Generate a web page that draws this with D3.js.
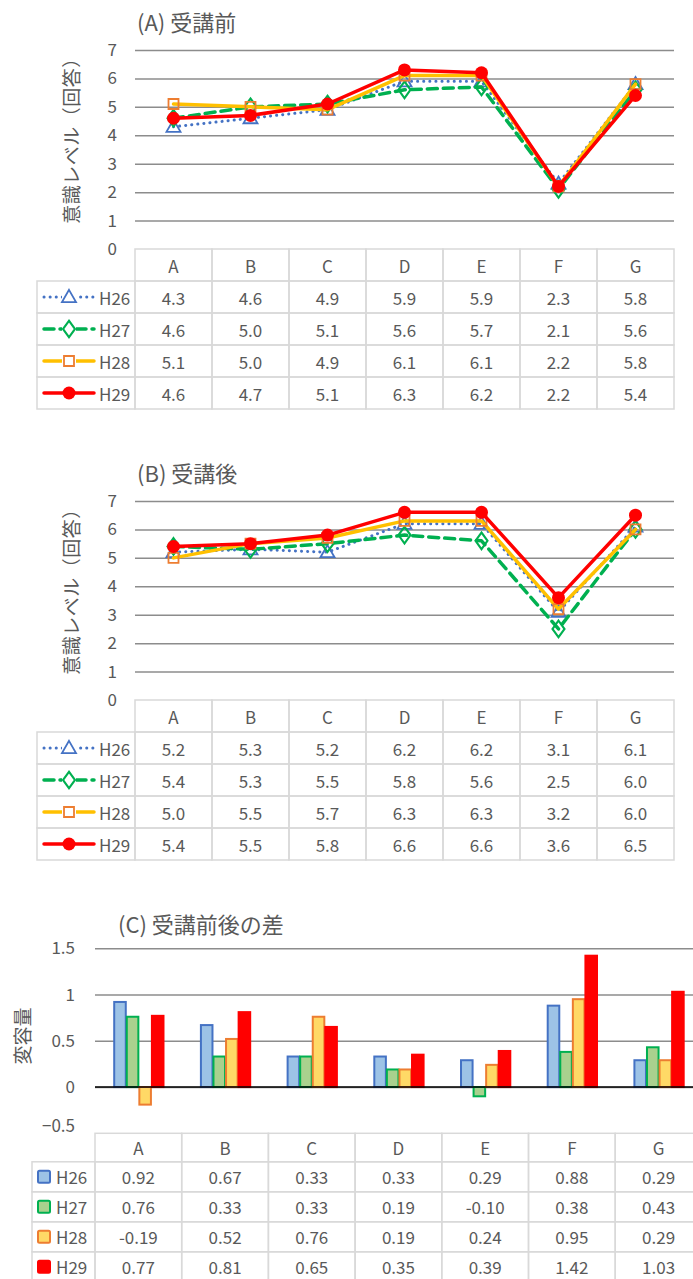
<!DOCTYPE html>
<meta charset="utf-8">
<script src="https://d3js.org/d3.v7.min.js"></script>
<style>
  body { margin: 0; background: #fff; }
  svg text { font-family: "Noto Sans CJK JP", "Noto Sans", sans-serif; fill: #595959; }
</style>
<div id="screen"></div>
<script>
  // categories and series
  var cats = ["A", "B", "C", "D", "E", "F", "G"];
  var years = ["H26", "H27", "H28", "H29"];

  // (A) before the course
  var beforeH26 = [4.3, 4.6, 4.9, 5.9, 5.9, 2.3, 5.8];
  var beforeH27 = [4.6, 5.0, 5.1, 5.6, 5.7, 2.1, 5.6];
  var beforeH28 = [5.1, 5.0, 4.9, 6.1, 6.1, 2.2, 5.8];
  var beforeH29 = [4.6, 4.7, 5.1, 6.3, 6.2, 2.2, 5.4];

  // (B) after the course
  var afterH26 = [5.2, 5.3, 5.2, 6.2, 6.2, 3.1, 6.1];
  var afterH27 = [5.4, 5.3, 5.5, 5.8, 5.6, 2.5, 6.0];
  var afterH28 = [5.0, 5.5, 5.7, 6.3, 6.3, 3.2, 6.0];
  var afterH29 = [5.4, 5.5, 5.8, 6.6, 6.6, 3.6, 6.5];

  // (C) difference
  var diffH26 = [0.92, 0.67, 0.33, 0.33, 0.29, 0.88, 0.29];
  var diffH27 = [0.76, 0.33, 0.33, 0.19, -0.10, 0.38, 0.43];
  var diffH28 = [-0.19, 0.52, 0.76, 0.19, 0.24, 0.95, 0.29];
  var diffH29 = [0.77, 0.81, 0.65, 0.35, 0.39, 1.42, 1.03];

  var lineTicks = [0, 1, 2, 3, 4, 5, 6, 7];
  var barTicks = [-0.5, 0, 0.5, 1, 1.5];

  var width = 693, height = 1279;
  var svg = d3.select("#screen").append("svg")
      .attr("width", width).attr("height", height);

  var gridColor = "#8c8c8c", cellColor = "#d9d9d9";
  var fs = "17px";

  // line styles per series
  var lineStyle = {
    H26: { color: "#4472c4", dash: "0.1 6", w: 3, marker: "triangle", mStroke: "#4472c4" },
    H27: { color: "#00b050", dash: "10 6", w: 3.5, marker: "diamond", mStroke: "#00b050" },
    H28: { color: "#ffc000", dash: null, w: 3.5, marker: "square", mStroke: "#ed7d31" },
    H29: { color: "#ff0000", dash: null, w: 3.5, marker: "circle", mStroke: "#ff0000" }
  };
  var barStyle = {
    H26: { fill: "#9dc3e6", stroke: "#4472c4" },
    H27: { fill: "#a9d18e", stroke: "#00b050" },
    H28: { fill: "#ffd966", stroke: "#ed7d31" },
    H29: { fill: "#ff0000", stroke: "#ff0000" }
  };

  function drawMarker(g, kind, x, y, st) {
    if (kind == "circle") {
      g.append("circle").attr("cx", x).attr("cy", y).attr("r", 6.5)
        .attr("fill", st.mStroke);
      return;
    }
    var sym = { triangle: d3.symbolTriangle, diamond: d3.symbolDiamond, square: d3.symbolSquare }[kind];
    var size = { triangle: 85, diamond: 80, square: 100 }[kind];
    g.append("path")
      .attr("d", d3.symbol().type(sym).size(size)())
      .attr("transform", "translate(" + x + "," + (kind == "triangle" ? y + 1 : y) + ")" + (kind == "diamond" ? " scale(1.25,1)" : ""))
      .attr("fill", "none")
      .attr("stroke", st.mStroke)
      .attr("stroke-width", 1.8);
  }

  function styleTicks(yAxis) {
    yAxis.selectAll(".tick text").style("font-size", fs).attr("fill", "#595959")
      .style("font-family", "'Noto Sans CJK JP', sans-serif");
  }

  function lineChart(top, title, series, fmt) {
    var g = svg.append("g").attr("transform", "translate(0," + top + ")");
    var x0 = 135, colW = 77;
    var x = d3.scaleBand().domain(cats).range([x0, x0 + colW * cats.length]);
    var y = d3.scaleLinear().domain([0, 7]).range([249, 50]);

    g.append("text").attr("x", 137).attr("y", 31)
      .style("font-size", "22px").text(title);

    // grid + tick labels
    var yAxis = g.append("g").attr("transform", "translate(" + x0 + ",0)")
      .call(d3.axisLeft(y).tickValues(lineTicks).tickFormat(d3.format("d"))
        .tickSize(-(colW * cats.length)).tickPadding(18));
    yAxis.select(".domain").remove();
    yAxis.selectAll(".tick line").attr("stroke", gridColor).attr("stroke-width", 1.5)
      .filter(function (d) { return d == 0; }).remove();
    styleTicks(yAxis);

    g.append("text")
      .attr("transform", "translate(70,136) rotate(-90)")
      .attr("text-anchor", "middle").attr("dominant-baseline", "central")
      .style("font-size", "19px").style("letter-spacing", "0.5px").text("意識レベル（回答）");

    // lines
    years.forEach(function (yr, k) {
      var st = lineStyle[yr];
      var line = d3.line()
        .x(function (d, i) { return x(cats[i]) + x.bandwidth() / 2; })
        .y(function (d) { return y(d); });
      g.append("path").datum(series[k])
        .attr("d", line).attr("fill", "none")
        .attr("stroke", st.color).attr("stroke-width", st.w)
        .attr("stroke-linecap", "round").attr("stroke-linejoin", "round")
        .attr("stroke-dasharray", st.dash);
      series[k].forEach(function (v, i) {
        drawMarker(g, st.marker, x(cats[i]) + x.bandwidth() / 2, y(v), st);
      });
    });

    // data table
    var t0 = 249, hH = 32, rH = 32, lx = 37;
    var tb = g.append("g");
    var cell = function (xx, yy, w, h) {
      tb.append("rect").attr("x", xx).attr("y", yy).attr("width", w).attr("height", h)
        .attr("fill", "none").attr("stroke", cellColor).attr("stroke-width", 1.5);
    };
    cats.forEach(function (c) {
      cell(x(c), t0, colW, hH);
      tb.append("text").attr("x", x(c) + colW / 2).attr("y", t0 + hH / 2)
        .attr("text-anchor", "middle").attr("dominant-baseline", "central")
        .style("font-size", fs).text(c);
    });
    years.forEach(function (yr, k) {
      var ry = t0 + hH + rH * k;
      cell(lx, ry, x0 - lx, rH);
      var st = lineStyle[yr];
      var cy = ry + rH / 2;
      tb.append("line").attr("x1", 44).attr("x2", 94).attr("y1", cy).attr("y2", cy)
        .attr("stroke", st.color).attr("stroke-width", st.w)
        .attr("stroke-linecap", "round").attr("stroke-dasharray", st.dash);
      if (st.marker != "circle") {
        tb.append("rect").attr("x", 62).attr("y", cy - 6).attr("width", 14).attr("height", 12).attr("fill", "#fff");
      }
      drawMarker(tb, st.marker, 69, cy, st);
      tb.append("text").attr("x", 99).attr("y", cy).attr("dominant-baseline", "central")
        .style("font-size", fs).text(yr);
      series[k].forEach(function (v, i) {
        cell(x(cats[i]), ry, colW, rH);
        tb.append("text").attr("x", x(cats[i]) + colW / 2).attr("y", cy)
          .attr("text-anchor", "middle").attr("dominant-baseline", "central")
          .style("font-size", fs).text(fmt(v));
      });
    });
  }

  lineChart(0, "(A) 受講前", [beforeH26, beforeH27, beforeH28, beforeH29], function (v) { return v.toFixed(1); });
  lineChart(451, "(B) 受講後", [afterH26, afterH27, afterH28, afterH29], function (v) { return v.toFixed(1); });

  // (C) bar chart
  (function () {
    var series = [diffH26, diffH27, diffH28, diffH29];
    var g = svg.append("g");
    var x0 = 95, colW = 86.7;
    var x = d3.scaleBand().domain(cats).range([x0, x0 + colW * cats.length]);
    var xs = d3.scaleBand().domain(years).range([colW * 0.21, colW * 0.79]);
    var y = d3.scaleLinear().domain([-0.5, 1.5]).range([1133.3, 948.3]);

    g.append("text").attr("x", 118).attr("y", 933)
      .style("font-size", "22px").text("(C) 受講前後の差");

    var yAxis = g.append("g").attr("transform", "translate(" + x0 + ",0)")
      .call(d3.axisLeft(y).tickValues(barTicks).tickFormat(d3.format("")).tickSize(-(width - x0 + 20)).tickPadding(20));
    yAxis.select(".domain").remove();
    yAxis.selectAll(".tick line").attr("stroke", gridColor).attr("stroke-width", 1.5)
      .filter(function (d) { return d == -0.5; }).remove();
    styleTicks(yAxis);
    yAxis.selectAll(".tick").filter(function (d) { return d == -0.5; }).select("text")
      .attr("dy", "-0.1em");

    g.append("text")
      .attr("transform", "translate(21,1036) rotate(-90)")
      .attr("text-anchor", "middle").attr("dominant-baseline", "central")
      .style("font-size", "19px").text("変容量");

    years.forEach(function (yr, k) {
      var st = barStyle[yr];
      g.append("g").selectAll("rect").data(series[k]).enter().append("rect")
        .attr("x", function (d, i) { return x(cats[i]) + xs(yr) + 1; })
        .attr("width", xs.bandwidth() - 1)
        .attr("y", function (d) { return Math.min(y(d), y(0)); })
        .attr("height", function (d) { return Math.abs(y(d) - y(0)); })
        .attr("fill", st.fill).attr("stroke", st.stroke).attr("stroke-width", 2);
    });
    // zero line on top
    g.append("line").attr("x1", x0).attr("x2", width + 20).attr("y1", y(0)).attr("y2", y(0))
      .attr("stroke", "#000").attr("stroke-width", 1.5);

    // table
    var t0 = 1133.3, hH = 28.5, rH = 30, lx = 32;
    var tb = g.append("g");
    var cell = function (xx, yy, w, h) {
      tb.append("rect").attr("x", xx).attr("y", yy).attr("width", w).attr("height", h)
        .attr("fill", "none").attr("stroke", cellColor).attr("stroke-width", 1.5);
    };
    cats.forEach(function (c) {
      cell(x(c), t0, colW, hH);
      tb.append("text").attr("x", x(c) + colW / 2).attr("y", t0 + hH / 2)
        .attr("text-anchor", "middle").attr("dominant-baseline", "central")
        .style("font-size", fs).text(c);
    });
    years.forEach(function (yr, k) {
      var ry = t0 + hH + rH * k, cy = ry + rH / 2;
      cell(lx, ry, x0 - lx, rH);
      tb.append("rect").attr("x", 38).attr("y", cy - 6).attr("width", 12).attr("height", 12)
        .attr("rx", 1.5)
        .attr("fill", barStyle[yr].fill).attr("stroke", barStyle[yr].stroke).attr("stroke-width", 2);
      tb.append("text").attr("x", 56).attr("y", cy).attr("dominant-baseline", "central")
        .style("font-size", fs).text(yr);
      series[k].forEach(function (v, i) {
        cell(x(cats[i]), ry, colW, rH);
        tb.append("text").attr("x", x(cats[i]) + colW / 2).attr("y", cy)
          .attr("text-anchor", "middle").attr("dominant-baseline", "central")
          .style("font-size", fs).text(v.toFixed(2));
      });
    });
  })();
</script>
